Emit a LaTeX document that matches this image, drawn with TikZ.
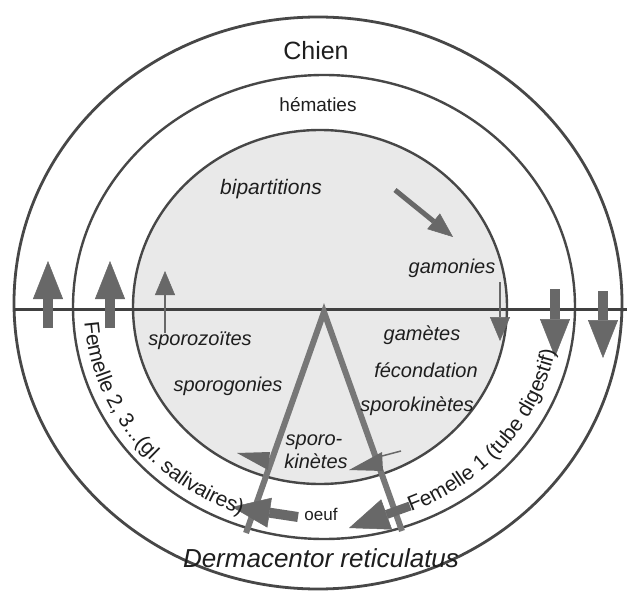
\documentclass[tikz,border=0pt]{standalone}
\usepackage{fontspec}
\setmainfont{Liberation Sans}
\usetikzlibrary{arrows.meta,decorations.text}
\definecolor{ring}{HTML}{474747}
\definecolor{arr}{HTML}{686868}
\definecolor{legc}{HTML}{777777}
\definecolor{ink}{HTML}{1E1E1E}
\definecolor{stip}{HTML}{E9E9E9}
\newcommand\femfont{\fontsize{21}{25}\selectfont}
\begin{document}
\begin{tikzpicture}[x=1pt,y=1pt,
  ringline/.style={draw=ring, line width=2.8pt},
  legline/.style={draw=legc, line width=6pt},
  bigarrow/.style={draw=arr, line width=10pt, -{Triangle[width=30pt,length=38pt,line width=0.5pt,fill=arr,color=arr]}},
  thinarrow/.style={draw=arr, line width=2.5pt, -{Triangle[width=20pt,length=24pt,line width=0.5pt,fill=arr,color=arr]}},
  midarrow/.style={draw=arr, line width=5pt, -{Triangle[width=20pt,length=25pt,line width=0.5pt,fill=arr,color=arr]}},
  lab/.style={anchor=base, text=ink, font=\fontsize{20}{24}\selectfont\itshape},
  rlab/.style={anchor=base, text=ink, font=\fontsize{19}{23}\selectfont}
]
\fill[white] (0,0) rectangle (627,-591);
\useasboundingbox (0,0) rectangle (627,-591);

% rings
\coordinate (Co) at (318,-303);
\coordinate (Cm) at (324,-307);
\coordinate (Ci) at (320,-307);
\fill[stip] (Ci) ellipse [x radius=187, y radius=177];
\draw[ringline] (Co) ellipse [x radius=304, y radius=286];
\draw[ringline, line width=2.4pt] (Cm) ellipse [x radius=251, y radius=232];
\draw[ringline, line width=2.4pt] (Ci) ellipse [x radius=187, y radius=177];

% horizontal line
\coordinate (hl) at (14,-309);
\coordinate (hr) at (627,-309);
\draw[draw=ink!85, line width=3pt] (hl) -- (hr);

% triangle legs
\coordinate (apex) at (324,-312);
\coordinate (bl) at (246,-533);
\coordinate (br) at (402,-531);
\draw[legline] (bl) -- (apex) -- (br);

% vertical arrows
\coordinate (u1s) at (48,-328);  \coordinate (u1e) at (48,-261);
\coordinate (u2s) at (110,-328); \coordinate (u2e) at (110,-261);
\coordinate (u3s) at (165,-333); \coordinate (u3e) at (165,-271);
\coordinate (d1s) at (500,-282); \coordinate (d1e) at (500,-341);
\coordinate (d2s) at (555,-289); \coordinate (d2e) at (555,-357);
\coordinate (d3s) at (603,-291); \coordinate (d3e) at (603,-358);
\draw[bigarrow] (u1s) -- (u1e);
\draw[bigarrow] (u2s) -- (u2e);
\draw[thinarrow] (u3s) -- (u3e);
\draw[thinarrow] (d1s) -- (d1e);
\draw[bigarrow] (d2s) -- (d2e);
\draw[bigarrow] (d3s) -- (d3e);

% bipartitions -> gamonies arrow
\coordinate (bs) at (395,-190);
\coordinate (be) at (453,-237);
\draw[midarrow] (bs) -- (be);

% bottom arrows
\coordinate (o1s) at (298,-517);
\coordinate (o1e) at (232,-507);
\draw[bigarrow] (o1s) -- (o1e);
\coordinate (o2s) at (410,-506);
\coordinate (o2e) at (349,-528);
\draw[draw=arr, line width=9pt, -{Triangle[width=32pt,length=40pt,line width=0.5pt,fill=arr,color=arr]}] (o2s) -- (o2e);

% inner-ring arrowheads
\fill[arr] (237,-453) -- (270,-452) -- (268,-470) -- cycle;
\fill[arr] (349,-470) -- (382,-452) -- (383,-471) -- cycle;
\draw[arr, line width=1.5pt] (382,-456) -- (401,-451);

% labels
\node[anchor=base, text=ink, font=\fontsize{25}{30}\selectfont] (chien) at (316,-60) {Chien};
\node[rlab] (hem) at (318,-112) {hématies};
\node[lab, font=\fontsize{21}{25}\selectfont\itshape] (bip) at (271,-195) {bipartitions};
\node[lab] (gam) at (452,-273) {gamonies};
\node[lab] (spz) at (200,-345) {sporozoïtes};
\node[lab] (spg) at (228,-391) {sporogonies};
\node[lab] (gmt) at (422,-340) {gamètes};
\node[lab] (fec) at (426,-377) {fécondation};
\node[lab] (spk) at (417,-411) {sporokinètes};
\node[lab] (spo1) at (314,-445) {sporo-};
\node[lab] (spo2) at (316,-468) {kinètes};
\node[rlab, font=\fontsize{17}{20}\selectfont] (oeuf) at (321,-520) {oeuf};
\node[lab, font=\fontsize{26}{30}\selectfont\itshape] (derm) at (321,-567) {Dermacentor reticulatus};

% curved labels
\coordinate (Ct) at (322,-307);
\path[decorate, decoration={text along path, text color=ink,
  text={|\femfont|Femelle 2, 3...(gl. salivaires)}}]
  (Ct) ++(184:238 and 221) arc[start angle=184, end angle=262, x radius=238, y radius=221];
\path[decorate, decoration={text along path, text color=ink,
  text={|\femfont|Femelle 1 (tube digestif)}}]
  (Ct) ++(292:238 and 221) arc[start angle=292, end angle=358, x radius=238, y radius=221];
\end{tikzpicture}
\end{document}
